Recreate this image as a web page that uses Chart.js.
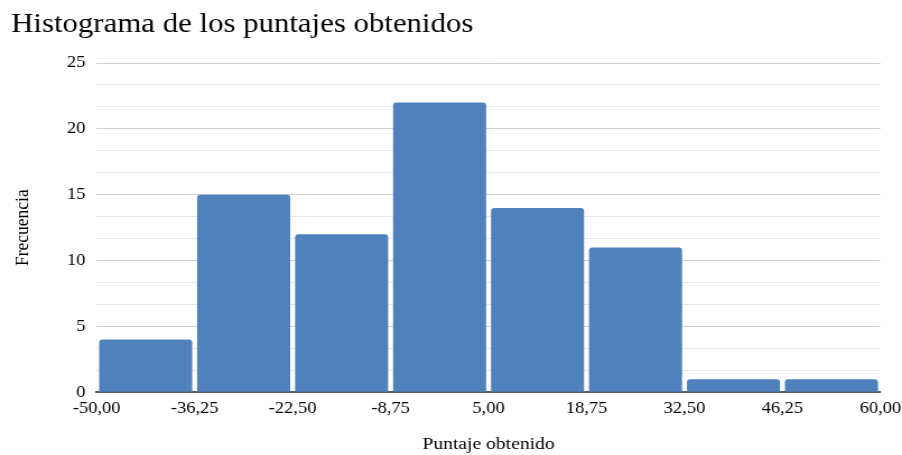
<!DOCTYPE html>
<html lang="es">
<head>
<meta charset="utf-8">
<title>Histograma de los puntajes obtenidos</title>
<script src="https://cdn.jsdelivr.net/npm/chart.js@4.4.1/dist/chart.umd.min.js"></script>
<style>
  html, body { margin: 0; padding: 0; background: #ffffff; }
  #wrap { width: 902px; height: 455px; overflow: hidden; }
  /* drawn on a narrower canvas and widened to the page width */
  #chart { width: 902px !important; height: 455px !important; display: block; }
</style>
</head>
<body>
<div id="wrap"><canvas id="chart" width="805" height="455"></canvas></div>
<script>
// Class edges of the histogram (score intervals)
const binEdges = [-50, -36.25, -22.5, -8.75, 5, 18.75, 32.5, 46.25, 60];
// Number of students in each interval
const frequencies = [4, 15, 12, 22, 14, 11, 1, 1];

const chartTitle = 'Histograma de los puntajes obtenidos';
const xAxisTitle = 'Puntaje obtenido';
const yAxisTitle = 'Frecuencia';

const serif = "'Liberation Serif', 'Times New Roman', serif";

// each bar sits in the middle of its interval
const barPoints = frequencies.map((f, i) => ({
  x: (binEdges[i] + binEdges[i + 1]) / 2,
  y: f
}));

const isMajor = v => Math.abs(v / 5 - Math.round(v / 5)) < 1e-6;

new Chart(document.getElementById('chart'), {
  type: 'bar',
  data: {
    datasets: [{
      data: barPoints,
      backgroundColor: '#4f81bd',
      borderWidth: 0,
      borderRadius: 3,
      categoryPercentage: 1,
      barPercentage: 0.95
    }]
  },
  options: {
    responsive: false,
    devicePixelRatio: 1,
    animation: false,
    layout: { padding: { left: 10, right: 0, top: 0, bottom: 0 } },
    plugins: {
      legend: { display: false },
      tooltip: { enabled: false },
      title: {
        display: true,
        text: chartTitle,
        align: 'start',
        color: '#000000',
        font: { family: serif, size: 27.5, weight: 'normal' },
        padding: { top: 8, bottom: 22 }
      }
    },
    scales: {
      x: {
        type: 'linear',
        min: binEdges[0],
        max: binEdges[binEdges.length - 1],
        offset: false,
        grid: { display: false, offset: false, drawTicks: false, tickLength: 0 },
        border: { display: true, color: '#595959', width: 2 },
        ticks: {
          stepSize: binEdges[1] - binEdges[0],
          autoSkip: false,
          maxRotation: 0,
          padding: 0.7,
          color: '#000000',
          font: { family: serif, size: 16.5, lineHeight: 1.915 },
          callback: v => v.toFixed(2).replace('.', ',')
        },
        title: {
          display: true,
          text: xAxisTitle,
          color: '#000000',
          font: { family: serif, size: 17.5 },
          padding: { top: 8.7, bottom: 0 }
        }
      },
      y: {
        min: 0,
        max: 25,
        grid: {
          drawTicks: false,
          tickLength: 0,
          lineWidth: 1,
          color: ctx => isMajor(ctx.tick.value) ? '#d2d2d2' : '#e8e8e8'
        },
        border: { display: false },
        ticks: {
          stepSize: 5 / 3,
          autoSkip: false,
          padding: 10,
          color: '#000000',
          font: { family: serif, size: 16.5 },
          callback: v => isMajor(v) ? String(Math.round(v)) : ''
        },
        title: {
          display: true,
          text: yAxisTitle,
          color: '#000000',
          font: { family: serif, size: 17.5 },
          padding: { top: 0, bottom: 18.8 }
        }
      }
    }
  }
});
</script>
</body>
</html>
